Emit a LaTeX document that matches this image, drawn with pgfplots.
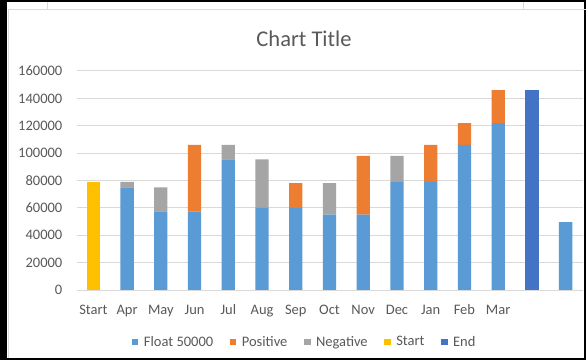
\documentclass[border=0pt]{standalone}
\usepackage{pgfplots}
\pgfplotsset{compat=1.18}
\usepackage{pgfplotstable}
\usepackage{fontspec}
\setmainfont{Carlito}
\definecolor{cfloat}{HTML}{5B9BD5}
\definecolor{cpos}{HTML}{ED7D31}
\definecolor{cneg}{HTML}{A5A5A5}
\definecolor{cstart}{HTML}{FFC000}
\definecolor{cend}{HTML}{4472C4}
\definecolor{gridgray}{HTML}{D9D9D9}
\definecolor{labelgray}{HTML}{595959}
\pgfplotstableread{
x float pos neg start end
0 0 0 0 79000 0
1 75000 0 4000 0 0
2 57500 0 17500 0 0
3 57500 48500 0 0 0
4 95500 0 10500 0 0
5 60000 0 35500 0 0
6 60000 18000 0 0 0
7 55000 0 23000 0 0
8 55000 43000 0 0 0
9 79000 0 19000 0 0
10 79000 27000 0 0 0
11 106000 16000 0 0 0
12 122000 24000 0 0 0
13 0 0 0 0 146000
14 49500 0 0 0 0
}\datatable
\begin{document}
\begin{tikzpicture}
\path[use as bounding box] (0bp,0bp) rectangle (586bp,360bp);
\fill[black] (0bp,0bp) rectangle (586bp,360bp);
\fill[white] (6.5bp,2bp) rectangle (584bp,358bp);
\draw[gridgray, line width=1bp] (8bp,2bp) -- (8bp,350bp) -- (586bp,350bp);
\draw[gridgray, line width=1bp] (47.3bp,350bp) -- (47.3bp,358bp);
\draw[gridgray, line width=1bp] (523bp,350bp) -- (523bp,358bp);
\node[text=labelgray, font=\fontsize{22.5bp}{26bp}\selectfont, anchor=center, inner sep=0pt] at (304bp,321bp) {Chart Title};
\begin{axis}[
  scale only axis, width=506bp, height=219bp,
  at={(76.5bp,70bp)}, anchor=south west,
  ybar stacked, bar width=13.3bp,
  xmin=-0.5, xmax=14.5, ymin=0, ymax=160000,
  xtick={0,...,14},
  xticklabels={Start,Apr,May,Jun,Jul,Aug,Sep,Oct,Nov,Dec,Jan,Feb,Mar,{},{}},
  ytick={0,20000,...,160000},
  scaled y ticks=false,
  /pgf/number format/assume math mode=true,
  yticklabel style={/pgf/number format/fixed, /pgf/number format/1000 sep={}, anchor=east, inner sep=0pt, xshift=-14bp},
  xticklabel style={anchor=base, inner sep=0pt, yshift=-24.7bp},
  tick label style={font=\fontsize{14.5bp}{17bp}\selectfont, text=labelgray},
  major tick length=0pt,
  axis line style={draw=none},
  ymajorgrids, grid style={draw=gridgray, line width=1bp},
  legend columns=5,
  legend style={draw=none, fill=none, at={(0.4543,-0.2374)}, anchor=center,
    font=\fontsize{14.5bp}{17bp}\selectfont, text=labelgray,
    nodes={inner xsep=5.5bp, inner ysep=0pt},
    /tikz/every even column/.append style={column sep=11bp}},
  legend image code/.code={\fill[#1] (0bp,-3.3bp) rectangle (6.6bp,3.3bp);},
]
\addplot[fill=cfloat, draw=none] table[x=x, y=float] {\datatable};
\addlegendentry{Float 50000}
\addplot[fill=cpos, draw=none] table[x=x, y=pos] {\datatable};
\addlegendentry{Positive}
\addplot[fill=cneg, draw=none] table[x=x, y=neg] {\datatable};
\addlegendentry{Negative}
\addplot[fill=cstart, draw=none] table[x=x, y=start] {\datatable};
\addlegendentry{Start}
\addplot[fill=cend, draw=none] table[x=x, y=end] {\datatable};
\addlegendentry{End}
\end{axis}
\end{tikzpicture}
\end{document}
